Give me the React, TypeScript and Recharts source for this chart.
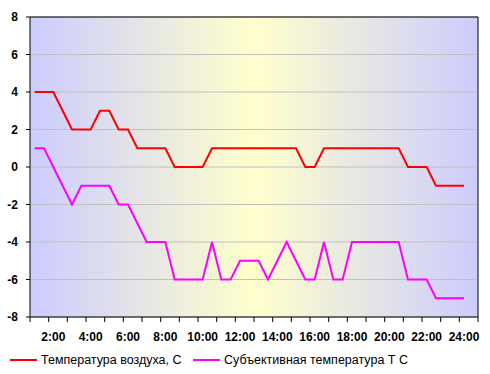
import React from 'react';
import {
  ComposedChart, Line, XAxis, YAxis, CartesianGrid, Legend, ReferenceLine,
} from 'recharts';

// half-hour readings, 1:00 .. 24:30 (last slot empty)
const times = [
  '1:00', '1:30', '2:00', '2:30', '3:00', '3:30', '4:00', '4:30',
  '5:00', '5:30', '6:00', '6:30', '7:00', '7:30', '8:00', '8:30',
  '9:00', '9:30', '10:00', '10:30', '11:00', '11:30', '12:00', '12:30',
  '13:00', '13:30', '14:00', '14:30', '15:00', '15:30', '16:00', '16:30',
  '17:00', '17:30', '18:00', '18:30', '19:00', '19:30', '20:00', '20:30',
  '21:00', '21:30', '22:00', '22:30', '23:00', '23:30', '24:00', '24:30',
];

const airTemp = [
  4, 4, 4, 3, 2, 2, 2, 3, 3, 2, 2, 1, 1, 1, 1, 0,
  0, 0, 0, 1, 1, 1, 1, 1, 1, 1, 1, 1, 1, 0, 0, 1,
  1, 1, 1, 1, 1, 1, 1, 1, 0, 0, 0, -1, -1, -1, -1, null,
];

const feltTemp = [
  1, 1, 0, -1, -2, -1, -1, -1, -1, -2, -2, -3, -4, -4, -4, -6,
  -6, -6, -6, -4, -6, -6, -5, -5, -5, -6, -5, -4, -5, -6, -6, -4,
  -6, -6, -4, -4, -4, -4, -4, -4, -6, -6, -6, -7, -7, -7, -7, null,
];

const yTicks = [-8, -6, -4, -2, 0, 2, 4, 6, 8];

const seriesNames = ['Температура воздуха, С', 'Субъективная температура Т С'];
const seriesColors = ['#ff0000', '#ff00ff'];

const data = times.map((t, i) => ({ time: t, air: airTemp[i], felt: feltTemp[i] }));

const WIDTH = 490;
const HEIGHT = 374;
const PLOT_W = 448;
const band = PLOT_W / times.length;
const TICK_SIZE = 5;
const TICK_MARGIN = 10;

function TimeTick(props: any) {
  const { x, y, payload, index } = props;
  const i = typeof index === 'number' ? index : payload.index;
  const top = y - TICK_SIZE - TICK_MARGIN;
  return (
    <g>
      {i % 2 === 0 && (
        <line x1={x - band / 2} x2={x - band / 2} y1={top} y2={top + TICK_SIZE} stroke="#000" />
      )}
      {i === times.length - 1 && (
        <line x1={x + band / 2} x2={x + band / 2} y1={top} y2={top + TICK_SIZE} stroke="#000" />
      )}
      {i >= 2 && (i - 2) % 4 === 0 && (
        <text x={x} y={y} dy="0.71em" textAnchor="middle" fontSize={12} fontWeight="bold" fill="#000">
          {payload.value}
        </text>
      )}
    </g>
  );
}

const legendX = [10, 193];

function ChartLegend(props: any) {
  const items = props.payload || [];
  return (
    <svg width={WIDTH} height={27} style={{ display: 'block' }}>
      {items.map((item: any) => {
        const k = seriesNames.indexOf(item.value);
        const lx = legendX[k < 0 ? 0 : k];
        return (
          <g key={item.value}>
            <line x1={lx} x2={lx + 27} y1={13} y2={13} stroke={item.color} strokeWidth={2} />
            <text x={lx + 31} y={17} fontSize={12.5} fill="#000">{item.value}</text>
          </g>
        );
      })}
    </svg>
  );
}

export default function App() {
  return (
    <div style={{ position: 'absolute', left: 0, top: 0, fontFamily: '"Liberation Sans", Arial, sans-serif', background: '#fff' }}>
      <ComposedChart width={WIDTH} height={HEIGHT} data={data} margin={{ top: 17, right: 11, left: 0, bottom: 0 }}>
        <defs>
          <linearGradient id="bgGrad" x1="0" y1="0" x2="1" y2="0">
            <stop offset="0%" stopColor="#ccccff" />
            <stop offset="50%" stopColor="#ffffcc" />
            <stop offset="100%" stopColor="#ccccff" />
          </linearGradient>
        </defs>
        <CartesianGrid vertical={false} stroke="#c0c0c0" fill="url(#bgGrad)" fillOpacity={1} />
        <XAxis
          dataKey="time"
          scale="band"
          interval={0}
          height={30}
          tickLine={false}
          tickSize={TICK_SIZE}
          tickMargin={TICK_MARGIN}
          axisLine={{ stroke: '#000' }}
          tick={<TimeTick />}
        />
        <YAxis
          domain={[-8, 8]}
          ticks={yTicks}
          width={30}
          tickSize={4}
          tickMargin={8}
          axisLine={{ stroke: '#000' }}
          tickLine={{ stroke: '#000' }}
          tick={{ fontSize: 12, fontWeight: 'bold', fill: '#000' }}
        />
        <YAxis
          yAxisId="right"
          orientation="right"
          domain={[-8, 8]}
          width={1}
          tick={false}
          tickLine={false}
          axisLine={{ stroke: '#000' }}
        />
        <ReferenceLine y={8} stroke="#000" />
        <Line
          type="linear"
          dataKey="air"
          name={seriesNames[0]}
          stroke={seriesColors[0]}
          strokeWidth={2}
          dot={false}
          activeDot={false}
          isAnimationActive={false}
        />
        <Line
          type="linear"
          dataKey="felt"
          name={seriesNames[1]}
          stroke={seriesColors[1]}
          strokeWidth={2}
          dot={false}
          activeDot={false}
          isAnimationActive={false}
        />
        <Legend
          verticalAlign="bottom"
          height={27}
          width={WIDTH}
          wrapperStyle={{ left: 0, bottom: 0 }}
          content={<ChartLegend />}
        />
      </ComposedChart>
    </div>
  );
}
